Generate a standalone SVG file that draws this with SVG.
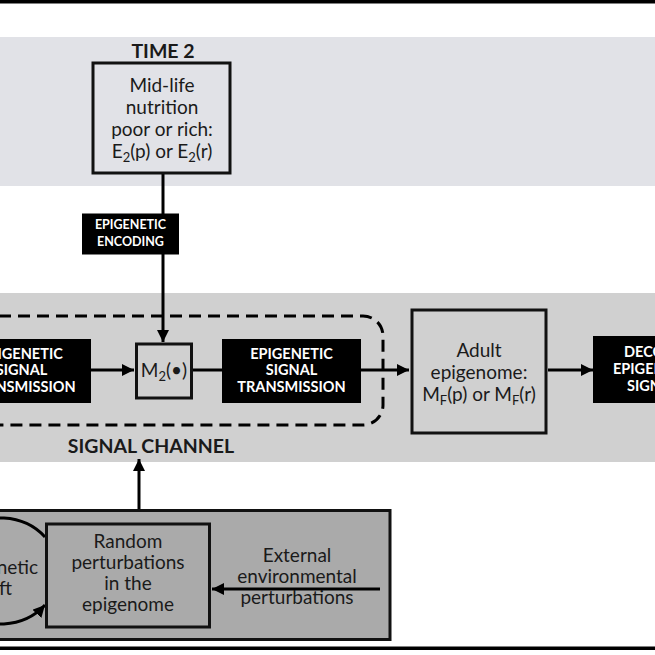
<svg xmlns="http://www.w3.org/2000/svg" width="655" height="655" viewBox="0 0 655 655">
<defs>
<style>
text{font-family:Lato,"Open Sans","Liberation Sans",sans-serif;fill:#1a1a1a;}
.t{font-size:19px;text-anchor:middle;}
.w{font-size:14.5px;font-weight:bold;fill:#fff;text-anchor:middle;}
.e{font-size:12.5px;font-weight:bold;fill:#fff;text-anchor:middle;}
.h{font-size:19.5px;font-weight:bold;text-anchor:middle;}
.box{stroke:#111;stroke-width:3;}
.blk{fill:#000;}
.c{stroke:#000;stroke-width:3;fill:none;}
</style>
<marker id="ah" markerUnits="userSpaceOnUse" markerWidth="13" markerHeight="12" refX="12" refY="6" orient="auto">
<path d="M0,0 L12,6 L0,12 z" fill="#000"/>
</marker>
</defs>
<rect width="655" height="655" fill="#fff"/>
<rect x="0" y="0" width="655" height="3.5" fill="#000"/>
<rect x="0" y="37" width="655" height="149" fill="#e1e2e7"/>
<rect x="0" y="293" width="655" height="169" fill="#d0d0d0"/>
<rect x="0" y="646.5" width="655" height="3.5" fill="#000"/>

<g id="env-box">
<rect x="-10" y="510.5" width="400" height="129" fill="#aaaaaa" class="box"/>
</g>

<g id="connectors">
<line class="c" x1="163" y1="174" x2="163" y2="342" marker-end="url(#ah)"/>
<line class="c" x1="90" y1="370" x2="134" y2="370" marker-end="url(#ah)"/>
<line class="c" x1="192" y1="370" x2="223" y2="370"/>
<line class="c" x1="360" y1="370" x2="409" y2="370" marker-end="url(#ah)"/>
<line class="c" x1="548" y1="370" x2="593" y2="370" marker-end="url(#ah)"/>
<line class="c" x1="139" y1="509" x2="139" y2="459" marker-end="url(#ah)"/>
<line class="c" x1="380" y1="589" x2="212" y2="589" marker-end="url(#ah)"/>
<path class="c" d="M45,537 A58,53 0 1 0 45,605" marker-end="url(#ah)"/>
</g>

<g id="time2">
<text class="h" x="163" y="58">TIME 2</text>
<rect x="93" y="63" width="137" height="110" fill="#e1e2e7" class="box"/>
<text class="t" x="162" y="92">Mid-life</text>
<text class="t" x="162" y="114">nutrition</text>
<text class="t" x="162" y="136">poor or rich:</text>
<text class="t" x="162" y="158">E<tspan font-size="13" dy="4">2</tspan><tspan dy="-4">(p) or E</tspan><tspan font-size="13" dy="4">2</tspan><tspan dy="-4">(r)</tspan></text>
</g>

<g id="encoding">
<rect x="82" y="213.5" width="97" height="41" class="blk"/>
<text class="e" x="130.5" y="229">EPIGENETIC</text>
<text class="e" x="130.5" y="245.5">ENCODING</text>
</g>

<g id="channel">
<path d="M-20,316 H363 A20,20 0 0 1 383,336 V405 A20,20 0 0 1 363,425 H-20" fill="none" stroke="#000" stroke-width="3" stroke-dasharray="12 7"/>
<text class="h" x="151" y="453">SIGNAL CHANNEL</text>
</g>

<g id="trans-left">
<rect x="-48" y="339" width="139" height="64" class="blk"/>
<text class="w" x="21.5" y="358.5">EPIGENETIC</text>
<text class="w" x="21.5" y="375">SIGNAL</text>
<text class="w" x="21.5" y="391.5">TRANSMISSION</text>
</g>

<g id="m2">
<rect x="136.5" y="344" width="55" height="54" fill="#d0d0d0" class="box"/>
<text class="t" x="164" y="377">M<tspan font-size="13" dy="4">2</tspan><tspan dy="-4">(•)</tspan></text>
</g>

<g id="trans-right">
<rect x="222" y="339" width="139" height="64" class="blk"/>
<text class="w" x="291.5" y="358.5">EPIGENETIC</text>
<text class="w" x="291.5" y="375">SIGNAL</text>
<text class="w" x="291.5" y="391.5">TRANSMISSION</text>
</g>

<g id="adult">
<rect x="412" y="310" width="134" height="123" fill="#d0d0d0" class="box"/>
<text class="t" x="479" y="357">Adult</text>
<text class="t" x="479" y="379">epigenome:</text>
<text class="t" x="479" y="401">M<tspan font-size="13" dy="4">F</tspan><tspan dy="-4">(p) or M</tspan><tspan font-size="13" dy="4">F</tspan><tspan dy="-4">(r)</tspan></text>
</g>

<g id="decoding">
<rect x="593" y="336" width="139" height="67" class="blk"/>
<text class="w" x="624" y="357" style="text-anchor:start">DECODING</text>
<text class="w" x="613" y="374" style="text-anchor:start">EPIGENETIC</text>
<text class="w" x="627" y="391" style="text-anchor:start">SIGNAL</text>
</g>

<g id="drift">
<text class="t" x="38" y="574" style="text-anchor:end">Epigenetic</text>
<text class="t" x="12" y="595" style="text-anchor:end">drift</text>
</g>

<g id="random">
<rect x="46.5" y="524" width="163" height="103" fill="#aaaaaa" class="box"/>
<text class="t" x="128" y="548">Random</text>
<text class="t" x="128" y="569">perturbations</text>
<text class="t" x="128" y="590">in the</text>
<text class="t" x="128" y="611">epigenome</text>
</g>

<g id="external">
<text class="t" x="297" y="562">External</text>
<text class="t" x="297" y="583">environmental</text>
<text class="t" x="297" y="604">perturbations</text>
</g>
</svg>
